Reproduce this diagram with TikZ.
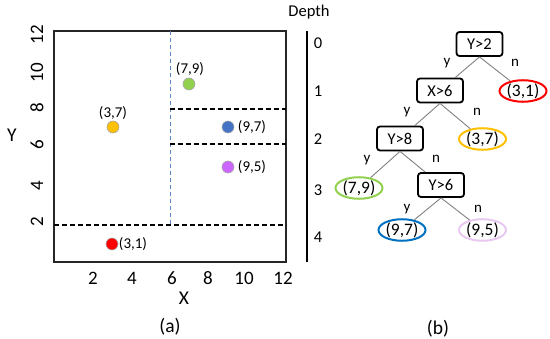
\documentclass[tikz,border=0pt]{standalone}
\usepackage{fontspec}
\setmainfont{Carlito}
\usetikzlibrary{shapes.geometric}
\definecolor{cred}{HTML}{FF0000}
\definecolor{corange}{HTML}{FFC000}
\definecolor{cgreen}{HTML}{92D050}
\definecolor{cblue}{HTML}{4472C4}
\definecolor{cpurple}{HTML}{CC66FF}
\definecolor{eblue}{HTML}{0070C0}
\definecolor{epink}{HTML}{E8C8F0}
\definecolor{dashblue}{HTML}{5B87C5}
\tikzset{
  tick/.style={font=\fontsize{19}{19}\selectfont, inner sep=0pt},
  axlab/.style={font=\fontsize{19.5}{19.5}\selectfont, inner sep=0pt},
  ptlab/.style={font=\fontsize{15}{15}\selectfont, inner sep=0pt},
  dot/.style={circle, minimum size=12pt, inner sep=0pt, draw=gray!70, line width=0.6pt},
  tbox/.style={draw=black, rounded corners=3pt, line width=1.8pt, minimum width=46pt, minimum height=24pt, inner sep=0pt, font=\fontsize{16.5}{16.5}\selectfont},
  leaf/.style={ellipse, line width=2pt, minimum width=47pt, minimum height=19pt, inner sep=0pt, font=\fontsize{17.5}{17.5}\selectfont},
  edge/.style={draw=gray, line width=0.9pt},
  yn/.style={font=\fontsize{15}{15}\selectfont, inner sep=0pt},
  depth/.style={font=\fontsize{16.5}{16.5}\selectfont, inner sep=0pt},
  hdash/.style={dashed, dash pattern=on 5pt off 3pt, line width=1.1pt, black}
}
\begin{document}
\begin{tikzpicture}[x=1pt,y=-1pt]
\useasboundingbox (0,0) rectangle (550,339);
% plot frame
\draw[line width=1.4pt, black!85] (54,31) rectangle (286,262);
% dashed split lines
\draw[dashed, dash pattern=on 4pt off 3pt, line width=1pt, dashblue] (170,31) -- (170,225);
\draw[hdash] (54,225) -- (286,225);
\draw[hdash] (170,109) -- (286,109);
\draw[hdash] (170,144) -- (286,144);
% points
\node[dot, fill=cgreen] (p79) at (189,84) {};
\node[dot, fill=corange] (p37) at (113,127) {};
\node[dot, fill=cblue] (p97) at (228,127) {};
\node[dot, fill=cpurple] (p95) at (228,167) {};
\node[dot, fill=cred] (p31) at (112,244) {};
\node[ptlab] (l79) at (190,69) {(7,9)};
\node[ptlab] (l37) at (113,113) {(3,7)};
\node[ptlab] (l97) at (252,127) {(9,7)};
\node[ptlab] (l95) at (252,167) {(9,5)};
\node[ptlab] (l31) at (133,244) {(3,1)};
% x ticks
\node[tick] (x2) at (93,278) {2};
\node[tick] (x4) at (132,278) {4};
\node[tick] (x6) at (172,278) {6};
\node[tick] (x8) at (208,278) {8};
\node[tick] (x10) at (244,278) {10};
\node[tick] (x12) at (283,278) {12};
% y ticks
\node[tick, rotate=90] (y12) at (37,35) {12};
\node[tick, rotate=90] (y10) at (37,73) {10};
\node[tick, rotate=90] (y8) at (37,108) {8};
\node[tick, rotate=90] (y6) at (37,145) {6};
\node[tick, rotate=90] (y4) at (37,186) {4};
\node[tick, rotate=90] (y2) at (37,222) {2};
\node[axlab] (xl) at (184,298) {X};
\node[axlab] (yl) at (12,135) {Y};
\node[axlab] (ca) at (170,327) {(a)};
% depth axis
\node[depth] (dh) at (309,12) {Depth};
\coordinate (dtop) at (307,31);
\coordinate (dbot) at (307,262);
\draw[line width=1.2pt] (dtop) -- (dbot);
\node[depth] (d0) at (318,43) {0};
\node[depth] (d1) at (318,91) {1};
\node[depth] (d2) at (318,139) {2};
\node[depth] (d3) at (318,190) {3};
\node[depth] (d4) at (318,237) {4};
% tree
\node[tbox] (r) at (479.5,44) {Y>2};
\node[tbox] (x6n) at (440,90.5) {X>6};
\node[leaf, draw=cred] (t31) at (523,91) {(3,1)};
\node[tbox] (y8n) at (400,138.5) {Y>8};
\node[leaf, draw=corange] (t37) at (482.5,139) {(3,7)};
\node[leaf, draw=cgreen] (t79) at (359,188) {(7,9)};
\node[tbox] (y6n) at (441,185) {Y>6};
\node[leaf, draw=eblue] (t97) at (402,230) {(9,7)};
\node[leaf, draw=epink] (t95) at (482.5,230) {(9,5)};
\draw[edge] (r.south) -- (x6n);
\draw[edge] (r.south) -- (t31);
\draw[edge] (x6n.south) -- (y8n);
\draw[edge] (x6n.south) -- (t37);
\draw[edge] (y8n.south) -- (t79);
\draw[edge] (y8n.south) -- (y6n);
\draw[edge] (y6n.south) -- (t97);
\draw[edge] (y6n.south) -- (t95);
\node[yn] (a1) at (447,63) {y};
\node[yn] (b1) at (515,63) {n};
\node[yn] (a2) at (407,112) {y};
\node[yn] (b2) at (477,112) {n};
\node[yn] (a3) at (367,160) {y};
\node[yn] (b3) at (436,159) {n};
\node[yn] (a4) at (407,209) {y};
\node[yn] (b4) at (478,209) {n};
\node[axlab] (cb) at (438,329) {(b)};
\end{tikzpicture}
\end{document}
